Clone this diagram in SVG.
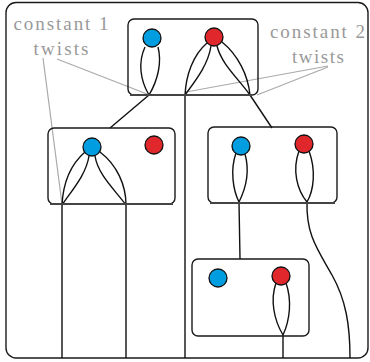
<svg xmlns="http://www.w3.org/2000/svg" width="370" height="362" viewBox="0 0 370 362">
<style>
.box{fill:none;stroke:#1a1a1a;stroke-width:1.4}
.base{stroke:#444;stroke-width:2}
.s{fill:none;stroke:#111;stroke-width:1.4}
.blue{fill:#009ee0;stroke:#111;stroke-width:1.3}
.red{fill:#e0282c;stroke:#111;stroke-width:1.3}
.lbl{font-family:"Liberation Serif","DejaVu Serif",serif;font-size:19px;fill:#999;text-anchor:middle}
.g{stroke:#aaa;stroke-width:1.2;fill:none}
</style>
<rect x="6" y="2.5" width="362" height="355.5" rx="10" class="box"/>
<g id="labels">
<text class="lbl" x="61" y="30" textLength="95" lengthAdjust="spacing">constant 1</text>
<text class="lbl" x="61" y="55" textLength="55" lengthAdjust="spacing">twists</text>
<text class="lbl" x="317.5" y="38" textLength="95" lengthAdjust="spacing">constant 2</text>
<text class="lbl" x="318" y="63" textLength="52" lengthAdjust="spacing">twists</text>
<path class="g" d="M43,58 L62,204 M57,59 L147,94 M328,66 L186,92 M328,67 L257,95"/>
</g>
<g id="connectors">
<path class="s" d="M145,47 C138,62 140,80 149,95 M158,47 C162,62 158,80 149,95"/>
<path class="s" d="M207,43 C193,55 186,75 185,95 M211,46 C208,65 196,80 185,95 M217,46 C222,65 238,78 250,95 M222,42 C238,55 248,75 250,95"/>
<path class="s" d="M149,95 L110,128 M250,95 L272,128 M185,95 L185,358"/>
<path class="s" d="M85,152 C70,165 63,185 62,205 M89,156 C86,175 72,190 62,205 M95,156 C98,175 115,190 126,205 M100,152 C117,165 126,185 126,205"/>
<path class="s" d="M62,205 L62,358 M126,205 L126,358"/>
<path class="s" d="M236,153 C230,170 233,190 239,202 M245,154 C250,172 245,190 239,202 M239,202 L240,259"/>
<path class="s" d="M299,151 C292,170 297,190 307,202 M309,151 C316,170 314,190 307,202"/>
<path class="s" d="M307,202 C306,235 318,250 332,275 C346,300 350,325 350,358"/>
<path class="s" d="M276,283 C270,300 274,320 283,335 M286,283 C292,300 290,320 283,335 M283,335 L283,358"/>
</g>
<g id="node-top">
<rect x="128" y="19" width="130" height="76" rx="6" class="box"/>
<line x1="130" y1="95" x2="252" y2="95" class="base"/>
<circle cx="152" cy="38" r="9" class="blue"/>
<circle cx="214" cy="37" r="9" class="red"/>
</g>
<g id="node-left">
<rect x="48" y="128" width="127" height="76" rx="6" class="box"/>
<line x1="50" y1="204" x2="173" y2="204" class="base"/>
<circle cx="92" cy="147" r="9" class="blue"/>
<circle cx="154" cy="145" r="9" class="red"/>
</g>
<g id="node-right">
<rect x="208" y="127" width="129" height="76" rx="6" class="box"/>
<line x1="210" y1="203" x2="335" y2="203" class="base"/>
<circle cx="241" cy="146" r="9" class="blue"/>
<circle cx="304" cy="144" r="9" class="red"/>
</g>
<g id="node-bottom">
<rect x="192" y="259" width="117" height="77" rx="6" class="box"/>
<circle cx="218" cy="278" r="9" class="blue"/>
<circle cx="281" cy="276" r="9" class="red"/>
</g>
</svg>
